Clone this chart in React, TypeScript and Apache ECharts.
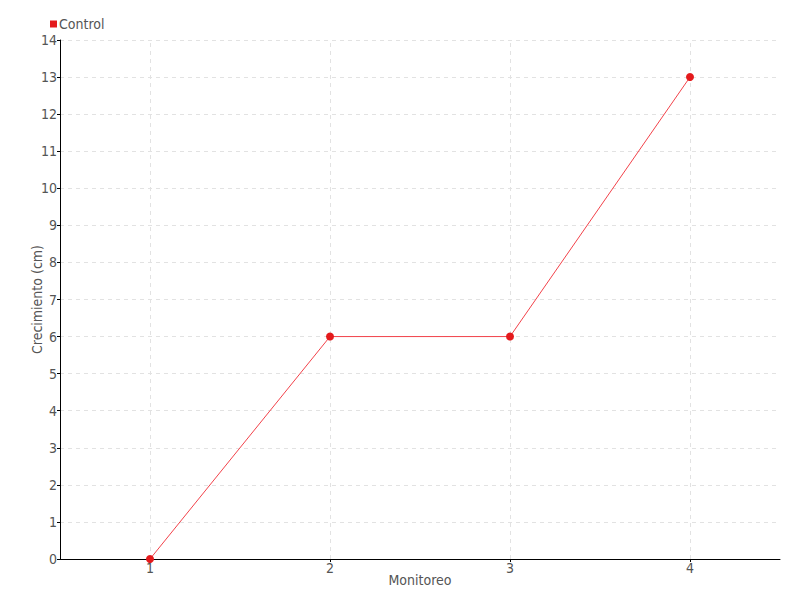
import React, { useEffect, useRef } from "react";
import * as echarts from "echarts";

const categories = [1, 2, 3, 4];
const controlValues = [0, 6, 6, 13];
const yTicks = [0, 14];

const FONT = "'DejaVu Sans Condensed', 'DejaVu Sans', sans-serif";
const TEXT = "#555";
const GRID = { color: "#e2e2e2", type: [4, 4] as number[], width: 1 };

export default function App() {
  const ref = useRef<HTMLDivElement>(null);
  useEffect(() => {
    if (!ref.current) return;
    const chart = echarts.init(ref.current, null, { renderer: "svg" });
    chart.setOption({
      animation: false,
      textStyle: { fontFamily: FONT },
      legend: {
        left: 45,
        top: 12,
        itemWidth: 7,
        itemHeight: 7,
        itemGap: 4,
        icon: "rect",
        textStyle: { color: TEXT, fontSize: 14, fontFamily: FONT, padding: [0, 0, 0, -3] },
        data: ["Control"],
      },
      grid: { left: 60, right: 20, top: 40, bottom: 41, containLabel: false, show: false },
      xAxis: {
        type: "value",
        min: 0.5,
        max: 4.5,
        name: "Monitoreo",
        nameLocation: "middle",
        nameGap: 14,
        nameMoveOverlap: false,
        nameTextStyle: { color: TEXT, fontSize: 14, fontFamily: FONT },
        axisLine: { lineStyle: { color: "#000", width: 1 } },
        axisTick: { show: true, customValues: categories, length: 3, lineStyle: { color: "#000" } },
        axisLabel: { customValues: categories, color: TEXT, fontSize: 14, fontFamily: FONT, margin: 2 },
        splitLine: { show: false },
      },
      yAxis: {
        type: "value",
        min: yTicks[0],
        max: yTicks[1],
        interval: 1,
        name: "Crecimiento (cm)",
        nameLocation: "middle",
        nameGap: 16,
        nameMoveOverlap: false,
        nameTextStyle: { color: TEXT, fontSize: 14, fontFamily: FONT },
        axisLine: { show: true, lineStyle: { color: "#000", width: 1 } },
        axisTick: { show: true, length: 3, lineStyle: { color: "#000" } },
        axisLabel: { color: TEXT, fontSize: 14, fontFamily: FONT, margin: 3 },
        splitLine: { show: true, lineStyle: GRID },
      },
      series: [
        {
          name: "Control",
          type: "line",
          data: categories.map((c, i) => [c, controlValues[i]]),
          color: "#e41a1c",
          lineStyle: { color: "#f2424a", width: 1 },
          symbol: "circle",
          symbolSize: 8,
          itemStyle: { color: "#e41a1c" },
          z: 3,
          markLine: {
            silent: true,
            symbol: "none",
            label: { show: false },
            lineStyle: GRID,
            z: 1,
            data: categories.map((c) => ({ xAxis: c })),
          },
        },
      ],
    });
    return () => chart.dispose();
  }, []);
  return <div ref={ref} style={{ width: 800, height: 600, position: "absolute", left: 0, top: 0 }} />;
}
